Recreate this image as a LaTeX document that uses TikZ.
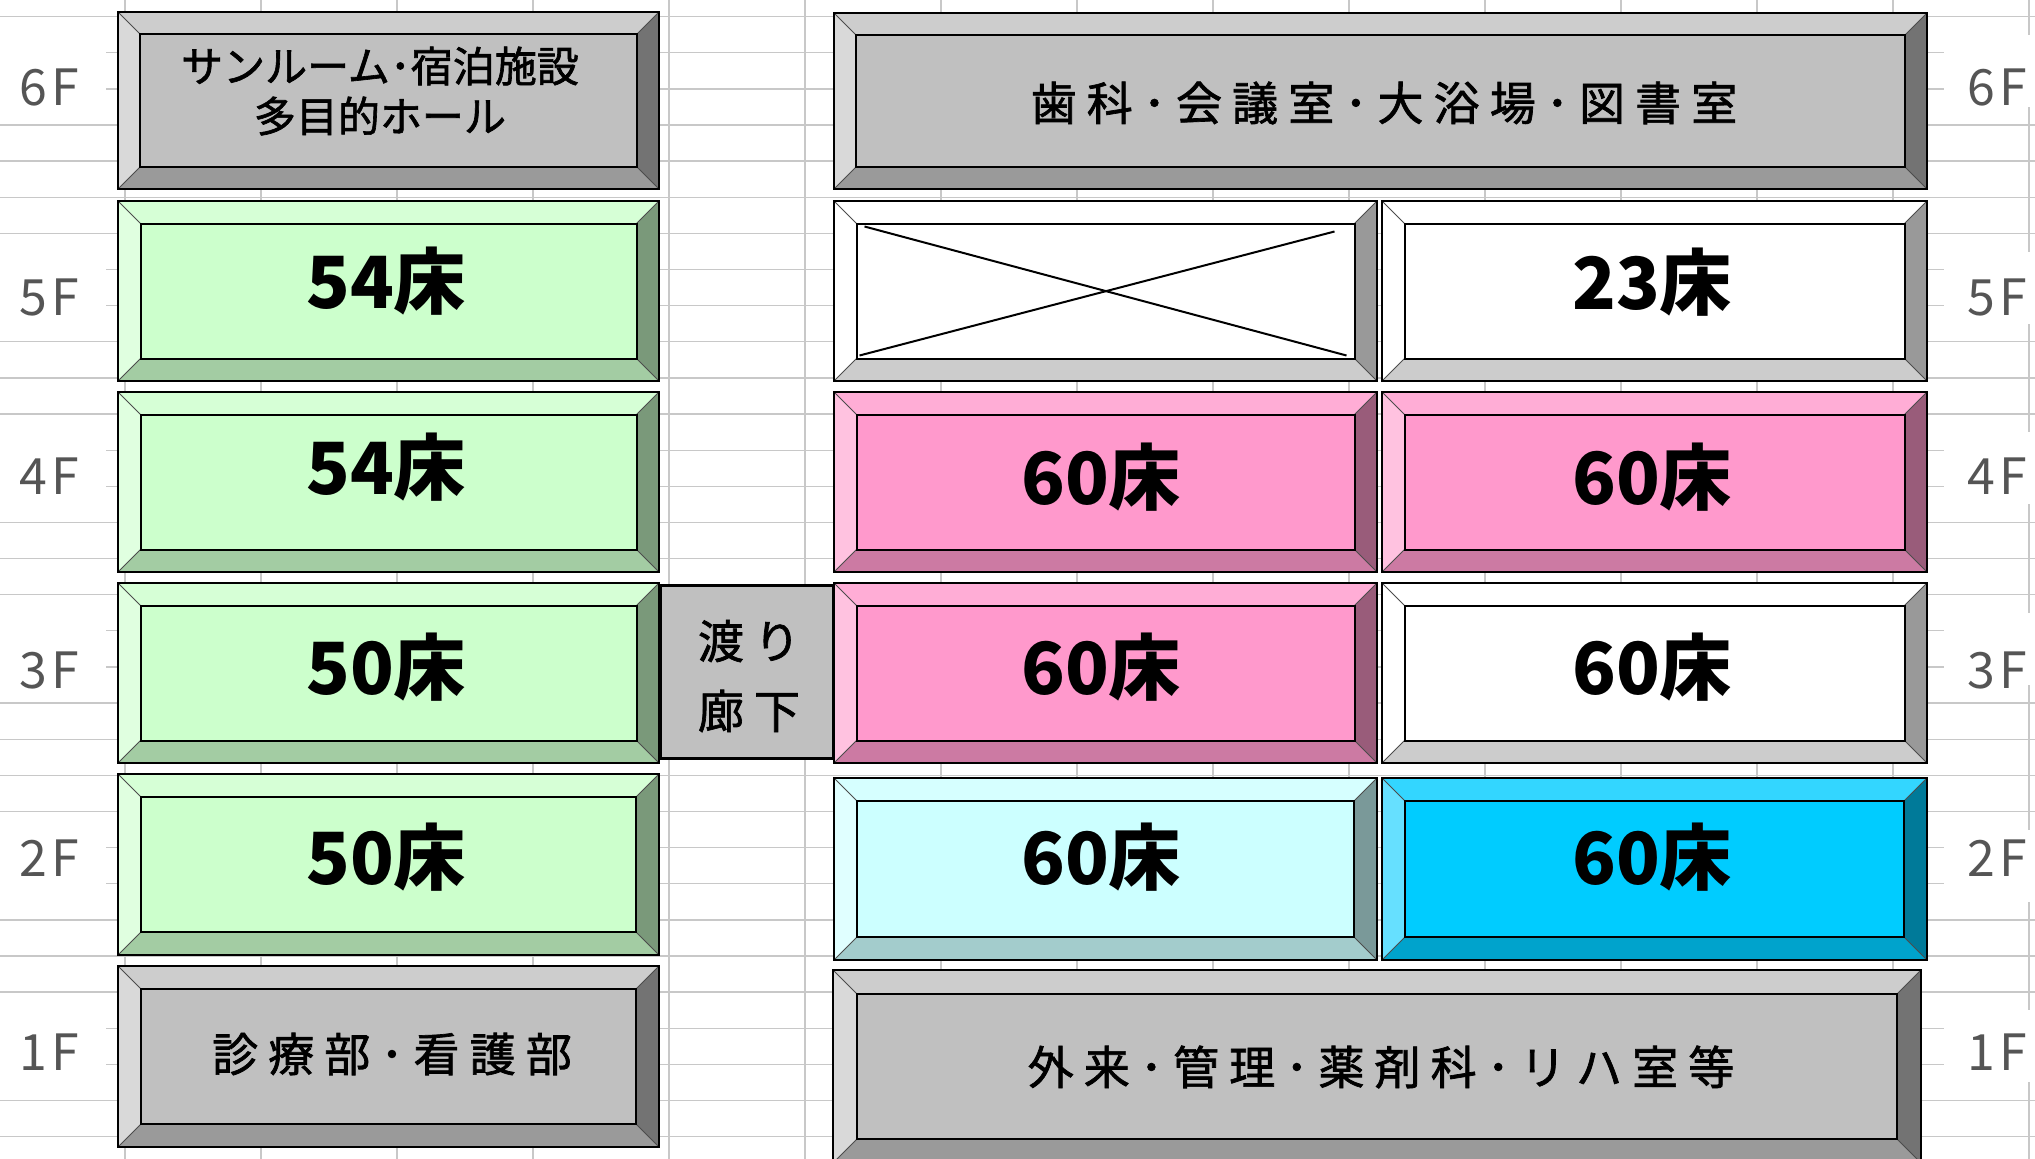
\documentclass[tikz,border=0pt]{standalone}
\usepackage{fontspec}
\newfontfamily\jp{Noto Sans CJK JP}
\usetikzlibrary{calc}

\definecolor{gridc}{RGB}{200,200,200}
\definecolor{lblc}{RGB}{85,85,85}
% gray
\definecolor{gryF}{RGB}{192,192,192}\definecolor{gryT}{RGB}{205,205,205}
\definecolor{gryL}{RGB}{217,217,217}\definecolor{gryB}{RGB}{154,154,154}
\definecolor{gryR}{RGB}{115,115,115}
% light green
\definecolor{grnF}{RGB}{204,255,204}\definecolor{grnT}{RGB}{214,255,214}
\definecolor{grnL}{RGB}{224,255,224}\definecolor{grnB}{RGB}{163,204,163}
\definecolor{grnR}{RGB}{122,153,122}
% pink
\definecolor{pnkF}{RGB}{255,153,204}\definecolor{pnkT}{RGB}{255,173,214}
\definecolor{pnkL}{RGB}{255,194,224}\definecolor{pnkB}{RGB}{204,122,163}
\definecolor{pnkR}{RGB}{153,92,122}
% light cyan
\definecolor{lcyF}{RGB}{204,255,255}\definecolor{lcyT}{RGB}{214,255,255}
\definecolor{lcyL}{RGB}{224,255,255}\definecolor{lcyB}{RGB}{163,204,204}
\definecolor{lcyR}{RGB}{122,153,153}
% sky blue
\definecolor{skyF}{RGB}{0,204,255}\definecolor{skyT}{RGB}{51,214,255}
\definecolor{skyL}{RGB}{102,224,255}\definecolor{skyB}{RGB}{0,163,204}
\definecolor{skyR}{RGB}{0,122,153}
% white
\definecolor{whtF}{RGB}{255,255,255}\definecolor{whtT}{RGB}{255,255,255}
\definecolor{whtL}{RGB}{255,255,255}\definecolor{whtB}{RGB}{204,204,204}
\definecolor{whtR}{RGB}{153,153,153}

\tikzset{
  gridl/.style={draw=gridc,line width=1.3pt},
  bvline/.style={draw=black,line width=2pt},
  bvdiag/.style={draw=black!70,line width=0.9pt},
  bignum/.style={inner sep=0pt,font=\jp\bfseries\fontsize{72}{72}\selectfont},
  roomtxt/.style={inner sep=0pt,font=\jp\fontsize{46}{50}\selectfont\addfontfeatures{LetterSpace=22,FakeBold=1.5}},
  roomsm/.style={inner sep=0pt,font=\jp\fontsize{42}{46}\selectfont\addfontfeatures{FakeBold=1.5}},
  floorlbl/.style={inner sep=0pt,text=lblc,font=\jp\fontsize{50}{50}\selectfont\addfontfeatures{LetterSpace=8}},
  walkbox/.style={draw=black,line width=3pt,fill=gryF}
}

% bevel box: #1 name, #2 x1, #3 y1, #4 x2, #5 y2, #6 colour prefix
\newcommand\bvbox[6]{%
  \pgfmathsetmacro\bvd{0.125*min(#4-#2,#5-#3)}%
  \fill[#6T] (#2,#3) -- (#4,#3) -- (#4-\bvd,#3+\bvd) -- (#2+\bvd,#3+\bvd) -- cycle;
  \fill[#6L] (#2,#3) -- (#2+\bvd,#3+\bvd) -- (#2+\bvd,#5-\bvd) -- (#2,#5) -- cycle;
  \fill[#6B] (#2,#5) -- (#2+\bvd,#5-\bvd) -- (#4-\bvd,#5-\bvd) -- (#4,#5) -- cycle;
  \fill[#6R] (#4,#3) -- (#4,#5) -- (#4-\bvd,#5-\bvd) -- (#4-\bvd,#3+\bvd) -- cycle;
  \fill[#6F] (#2+\bvd,#3+\bvd) rectangle (#4-\bvd,#5-\bvd);
  \draw[bvdiag] (#2,#3) -- (#2+\bvd,#3+\bvd) (#4,#3) -- (#4-\bvd,#3+\bvd)
                (#2,#5) -- (#2+\bvd,#5-\bvd) (#4,#5) -- (#4-\bvd,#5-\bvd);
  \draw[bvline] (#2+\bvd,#3+\bvd) rectangle (#4-\bvd,#5-\bvd);
  \draw[bvline] (#2,#3) rectangle (#4,#5);
  \coordinate (#1-tl) at (#2+\bvd,#3+\bvd);
  \coordinate (#1-br) at (#4-\bvd,#5-\bvd);
  \coordinate (#1-tr) at (#4-\bvd,#3+\bvd);
  \coordinate (#1-bl) at (#2+\bvd,#5-\bvd);
}

\begin{document}
\begin{tikzpicture}[x=1pt,y=-1pt]
\useasboundingbox (0,0) rectangle (2035,1159);
\clip (0,0) rectangle (2035,1159);
\fill[white] (0,0) rectangle (2035,1159);

% spreadsheet grid
\foreach \k in {0,...,31} \draw[gridl] (0,{16.6+36.13*\k}) -- (2035,{16.6+36.13*\k});
\foreach \j in {0,...,14} \draw[gridl] ({125+136*\j},0) -- ({125+136*\j},1159);
\foreach \a/\b in {1/2,7/8,12/13,17/18,23/24,28/29}{
  \fill[white] (0,{16.6+36.13*\a-18}) rectangle (106,{16.6+36.13*\b+18});
  \fill[white] (1944,{16.6+36.13*\a-18}) rectangle (2035,{16.6+36.13*\b+18});
}

% left building
\bvbox{L6}{118}{12}{659}{189}{gry}
\bvbox{L5}{118}{201}{659}{381}{grn}
\bvbox{L4}{118}{392}{659}{572}{grn}
\bvbox{L3}{118}{583}{659}{763}{grn}
\bvbox{L2}{118}{774}{659}{955}{grn}
\bvbox{L1}{118}{966}{659}{1147}{gry}

% right building
\bvbox{R6}{834}{13}{1927}{189}{gry}
\bvbox{R5a}{834}{201}{1377}{381}{wht}
\bvbox{R5b}{1382}{201}{1927}{381}{wht}
\bvbox{R4a}{834}{392}{1377}{572}{pnk}
\bvbox{R4b}{1382}{392}{1927}{572}{pnk}
\bvbox{R3a}{834}{583}{1377}{763}{pnk}
\bvbox{R3b}{1382}{583}{1927}{763}{wht}
\bvbox{R2a}{834}{778}{1377}{960}{lcy}
\bvbox{R2b}{1382}{778}{1927}{960}{sky}
\bvbox{R1}{833}{970}{1921}{1163}{gry}

% crossed-out box
\draw[line width=2pt] ($(R5a-tl)+(8,3)$) -- ($(R5a-br)+(-8,-3)$);
\draw[line width=2pt] ($(R5a-bl)+(3,-3)$) -- ($(R5a-tr)+(-20,8)$);

% connecting corridor
\draw[walkbox] (660,585) rectangle (833,758);
\node[roomtxt] (w1) at (749,641) {渡り};
\node[roomtxt] (w2) at (749,711) {廊下};

% texts
\node[roomsm] (t6a) at (380,66) {サンルーム･宿泊施設};
\node[roomsm] (t6b) at (380,116) {多目的ホール};
\node[roomtxt] (t6r) at (1384,103) {歯科･会議室･大浴場･図書室};
\node[roomtxt] (t1l) at (392,1054) {診療部･看護部};
\node[roomtxt] (t1r) at (1381,1067) {外来･管理･薬剤科･リハ室等};

\node[bignum] (n5l) at (386,281) {54床};
\node[bignum] (n4l) at (386,467) {54床};
\node[bignum] (n3l) at (386,667) {50床};
\node[bignum] (n2l) at (386,857) {50床};
\node[bignum] (n5r) at (1652,282) {23床};
\node[bignum] (n4a) at (1101,477) {60床};
\node[bignum] (n4b) at (1652,477) {60床};
\node[bignum] (n3a) at (1101,667) {60床};
\node[bignum] (n3b) at (1652,667) {60床};
\node[bignum] (n2a) at (1101,857) {60床};
\node[bignum] (n2b) at (1652,857) {60床};

% floor labels
\foreach \f/\y in {6/87,5/297,4/476,3/670,2/858,1/1052}{
  \node[floorlbl] (fl\f) at (49,\y) {\f F};
  \node[floorlbl] (fr\f) at (1997,\y) {\f F};
}
\end{tikzpicture}
\end{document}
